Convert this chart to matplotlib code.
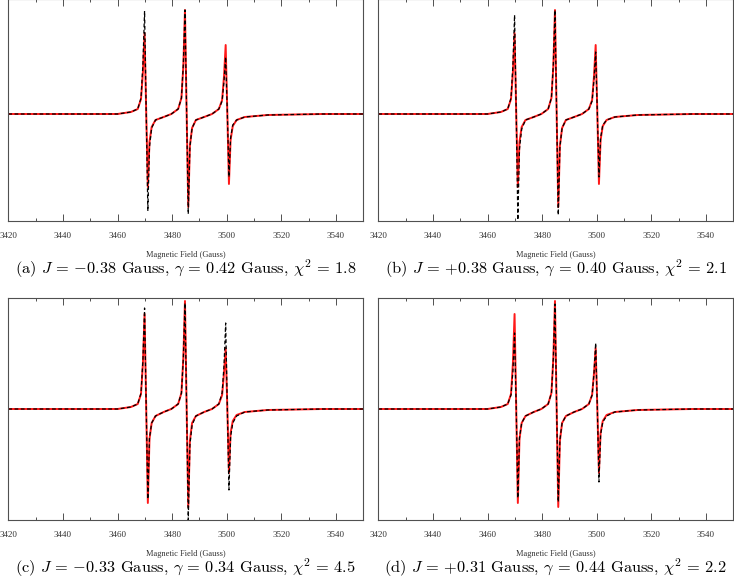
import matplotlib
matplotlib.use("Agg")
import matplotlib.pyplot as plt
from matplotlib.ticker import MultipleLocator

# magnetic field grid (Gauss)
field = [3420, 3445, 3460,
         3464.9, 3467.4, 3468.6, 3469.3, 3469.9, 3470.5, 3471.1, 3471.7, 3472.5, 3473.9, 3476.9,
         3479.7, 3482.2, 3483.4, 3484.1, 3484.7, 3485.3, 3485.9, 3486.5, 3487.3, 3488.7, 3491.7,
         3494.6, 3497.1, 3498.3, 3499.0, 3499.6, 3500.2, 3500.8, 3501.4, 3502.2, 3503.6, 3506.6,
         3515, 3535, 3550]

# experimental spectra (red), top row and bottom row
exp_top = [0.00, 0.00, 0.00,
           0.02, 0.05, 0.15, 0.42, 0.81, 0.02, -0.73, -0.28, -0.13, -0.06, -0.03,
           0.00, 0.05, 0.16, 0.48, 1.04, 0.02, -0.93, -0.32, -0.14, -0.06, -0.03,
           0.00, 0.05, 0.14, 0.38, 0.69, 0.02, -0.70, -0.26, -0.12, -0.06, -0.03,
           -0.01, 0.00, 0.00]
exp_bottom = [0.04, 0.04, 0.04,
              0.06, 0.09, 0.19, 0.50, 0.99, 0.06, -0.90, -0.26, -0.10, -0.03, 0.01,
              0.04, 0.09, 0.20, 0.55, 1.12, 0.06, -0.94, -0.28, -0.10, -0.03, 0.01,
              0.04, 0.09, 0.18, 0.40, 0.65, 0.06, -0.60, -0.20, -0.08, -0.02, 0.01,
              0.03, 0.04, 0.04]

# simulated fits (black dashed)
fit_a = [0.00, 0.00, 0.00,
         0.02, 0.05, 0.16, 0.50, 1.03, 0.02, -0.97, -0.33, -0.14, -0.06, -0.03,
         0.00, 0.05, 0.16, 0.50, 1.04, 0.02, -1.00, -0.33, -0.14, -0.06, -0.03,
         0.00, 0.05, 0.13, 0.33, 0.57, 0.02, -0.63, -0.24, -0.11, -0.06, -0.03,
         -0.01, 0.00, 0.00]
fit_b = [0.00, 0.00, 0.00,
         0.02, 0.05, 0.16, 0.49, 0.99, 0.02, -1.06, -0.35, -0.15, -0.06, -0.03,
         0.00, 0.05, 0.16, 0.50, 1.04, 0.02, -1.01, -0.33, -0.14, -0.06, -0.03,
         0.00, 0.05, 0.13, 0.35, 0.62, 0.02, -0.63, -0.24, -0.11, -0.06, -0.03,
         -0.01, 0.00, 0.00]
fit_c = [0.04, 0.04, 0.04,
         0.06, 0.09, 0.20, 0.53, 1.05, 0.06, -0.86, -0.25, -0.10, -0.03, 0.01,
         0.04, 0.09, 0.20, 0.55, 1.10, 0.06, -1.07, -0.32, -0.12, -0.03, 0.01,
         0.04, 0.09, 0.20, 0.48, 0.90, 0.06, -0.77, -0.24, -0.10, -0.03, 0.01,
         0.03, 0.04, 0.04]
fit_d = [0.04, 0.04, 0.04,
         0.06, 0.09, 0.18, 0.42, 0.80, 0.06, -0.85, -0.25, -0.10, -0.03, 0.01,
         0.04, 0.09, 0.20, 0.55, 1.09, 0.06, -0.89, -0.27, -0.10, -0.03, 0.01,
         0.04, 0.09, 0.18, 0.40, 0.70, 0.06, -0.69, -0.22, -0.09, -0.03, 0.01,
         0.03, 0.04, 0.04]

captions = [
    r"(a) $J\,=\,{-0.38}$ Gauss, $\gamma\,=\,0.42$ Gauss, $\chi^2\,=\,1.8$",
    r"(b) $J\,=\,{+0.38}$ Gauss, $\gamma\,=\,0.40$ Gauss, $\chi^2\,=\,2.1$",
    r"(c) $J\,=\,{-0.33}$ Gauss, $\gamma\,=\,0.34$ Gauss, $\chi^2\,=\,4.5$",
    r"(d) $J\,=\,{+0.31}$ Gauss, $\gamma\,=\,0.44$ Gauss, $\chi^2\,=\,2.2$",
]

plt.rcParams["mathtext.fontset"] = "cm"

fig = plt.figure(figsize=(7.34, 5.83), dpi=100)
W, H = 734, 583

# axes boxes in pixels: left, top, right, bottom
boxes = [(8.3, -1, 363.3, 221), (378.3, -1, 733.3, 221),
         (8.3, 298, 363.3, 520), (378.3, 298, 733.3, 520)]
exps = [exp_top, exp_top, exp_bottom, exp_bottom]
fits = [fit_a, fit_b, fit_c, fit_d]
spine_col = "#505050"

for i in range(4):
    l, t, r, b = boxes[i]
    ax = fig.add_axes([l / W, 1 - b / H, (r - l) / W, (b - t) / H])
    ax.plot(field, exps[i], color="red", lw=1.4, alpha=0.9)
    ax.plot(field, fits[i], color="black", lw=0.9, dashes=(3, 2))
    ax.set_xlim(3420, 3550)
    ax.set_ylim(-1.07, 1.15)
    ax.set_yticks([])
    ax.xaxis.set_major_locator(MultipleLocator(20))
    ax.xaxis.set_minor_locator(MultipleLocator(10))
    ax.tick_params(axis="x", which="both", direction="in", top=True,
                   color=spine_col, width=0.7, labelsize=6.5, pad=8,
                   labelcolor="#333333")
    ax.tick_params(axis="x", which="major", length=4.8)
    ax.tick_params(axis="x", which="minor", length=2.4)
    for lab in ax.get_xticklabels():
        lab.set_family("Liberation Serif")
    for sp in ax.spines.values():
        sp.set_color(spine_col)
        sp.set_linewidth(0.8)
    ax.set_xlabel("Magnetic Field (Gauss)", fontsize=6, family="Liberation Serif",
                  color="#333333", labelpad=7.5)
    cx = (l + r) / 2 / W
    cy = 1 - (b + 48) / H
    fig.text(cx, cy, captions[i], ha="center", va="center", fontsize=11.8,
             family="cmr10")

fig.savefig("out.png", dpi=100)
